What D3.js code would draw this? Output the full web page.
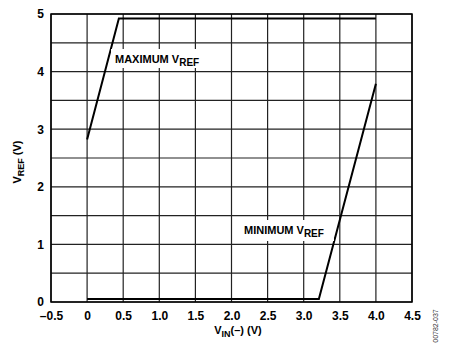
<!DOCTYPE html>
<html>
<head>
<meta charset="UTF-8">
<script src="https://cdn.jsdelivr.net/npm/d3@7"></script>
<style>
  body { margin: 0; background: #fff; }
  text { font-family: "Liberation Sans", Arial, sans-serif; font-weight: bold; }
</style>
</head>
<body>
<div id="chart"></div>
<script>
  // data
  var maxVin  = [0, 0.44, 4.0];
  var maxVref = [2.82, 4.92, 4.92];
  var minVin  = [0, 3.21, 4.0];
  var minVref = [0.05, 0.05, 3.79];
  var xTicks = [-0.5, 0, 0.5, 1.0, 1.5, 2.0, 2.5, 3.0, 3.5, 4.0, 4.5];
  var xTickLabels = ["\u20130.5", "0", "0.5", "1.0", "1.5", "2.0", "2.5", "3.0", "3.5", "4.0", "4.5"];
  var yTicks = [0, 1, 2, 3, 4, 5];

  var W = 458, H = 351;
  var margin = { top: 14, right: 46, bottom: 49, left: 51 };
  var width = W - margin.left - margin.right;
  var height = H - margin.top - margin.bottom;

  var svg = d3.select("#chart").append("svg")
    .attr("width", W).attr("height", H);
  var g = svg.append("g")
    .attr("transform", "translate(" + margin.left + "," + margin.top + ")");

  var x = d3.scaleLinear().domain([-0.5, 4.5]).range([0, width]);
  var y = d3.scaleLinear().domain([0, 5]).range([height, 0]);

  // grid
  g.append("g").selectAll("line")
    .data(d3.range(-0.5, 4.51, 0.5))
    .enter().append("line")
    .attr("x1", function(d) { return x(d); }).attr("x2", function(d) { return x(d); })
    .attr("y1", 0).attr("y2", height)
    .attr("stroke", "#222").attr("stroke-width", 1.2);
  g.append("g").selectAll("line")
    .data(d3.range(0, 5.01, 0.5))
    .enter().append("line")
    .attr("y1", function(d) { return y(d); }).attr("y2", function(d) { return y(d); })
    .attr("x1", 0).attr("x2", width)
    .attr("stroke", "#222").attr("stroke-width", 1.2);

  var line = d3.line()
    .x(function(d) { return x(d[0]); })
    .y(function(d) { return y(d[1]); });

  g.append("path")
    .datum(d3.zip(maxVin, maxVref))
    .attr("d", line).attr("fill", "none")
    .attr("stroke", "#000").attr("stroke-width", 2);
  g.append("path")
    .datum(d3.zip(minVin, minVref))
    .attr("d", line).attr("fill", "none")
    .attr("stroke", "#000").attr("stroke-width", 2);

  // frame
  g.append("rect")
    .attr("width", width).attr("height", height)
    .attr("fill", "none").attr("stroke", "#000").attr("stroke-width", 1.5);

  // axes
  var xAxis = d3.axisBottom(x).tickValues(xTicks).tickSize(0).tickPadding(9)
    .tickFormat(function(d, i) { return xTickLabels[i]; });
  var gx = g.append("g").attr("transform", "translate(0," + height + ")").call(xAxis);
  gx.select(".domain").remove();
  gx.selectAll("text").attr("font-size", 12).attr("fill", "#000")
    .style("font-family", "Liberation Sans, Arial, sans-serif").style("font-weight", "bold");

  var yAxis = d3.axisLeft(y).tickValues(yTicks).tickSize(0).tickPadding(7)
    .tickFormat(d3.format("d"));
  var gy = g.append("g").call(yAxis);
  gy.select(".domain").remove();
  gy.selectAll("text").attr("font-size", 12).attr("fill", "#000")
    .style("font-family", "Liberation Sans, Arial, sans-serif").style("font-weight", "bold");

  // curve labels with white boxes
  function label(tx, ty, bx, by, bw, bh, main) {
    g.append("rect").attr("x", bx - margin.left).attr("y", by - margin.top)
      .attr("width", bw).attr("height", bh).attr("fill", "#fff");
    var t = g.append("text").attr("x", tx - margin.left).attr("y", ty - margin.top)
      .attr("font-size", 11).attr("fill", "#000");
    t.append("tspan").text(main + " V");
    t.append("tspan").attr("dy", 3).attr("font-size", 10).text("REF");
  }
  label(115, 63, 111, 49, 100, 19, "MAXIMUM");
  label(244, 234, 240, 220, 94, 21, "MINIMUM");

  // axis titles
  var yt = svg.append("text")
    .attr("transform", "translate(21,162) rotate(-90)")
    .attr("text-anchor", "middle").attr("font-size", 11).attr("fill", "#000");
  yt.append("tspan").text("V");
  yt.append("tspan").attr("dy", 3).attr("font-size", 9).text("REF");
  yt.append("tspan").attr("dy", -3).text(" (V)");

  var xt = svg.append("text")
    .attr("x", 238).attr("y", 334)
    .attr("text-anchor", "middle").attr("font-size", 11).attr("fill", "#000");
  xt.append("tspan").text("V");
  xt.append("tspan").attr("dy", 3).attr("font-size", 9).text("IN");
  xt.append("tspan").attr("dy", -3).text("(\u2013) (V)");

  svg.append("text")
    .attr("transform", "translate(438,326) rotate(-90)")
    .attr("text-anchor", "middle").attr("font-size", 7)
    .style("font-weight", "normal").attr("fill", "#333")
    .text("00782-037");
</script>
</body>
</html>
